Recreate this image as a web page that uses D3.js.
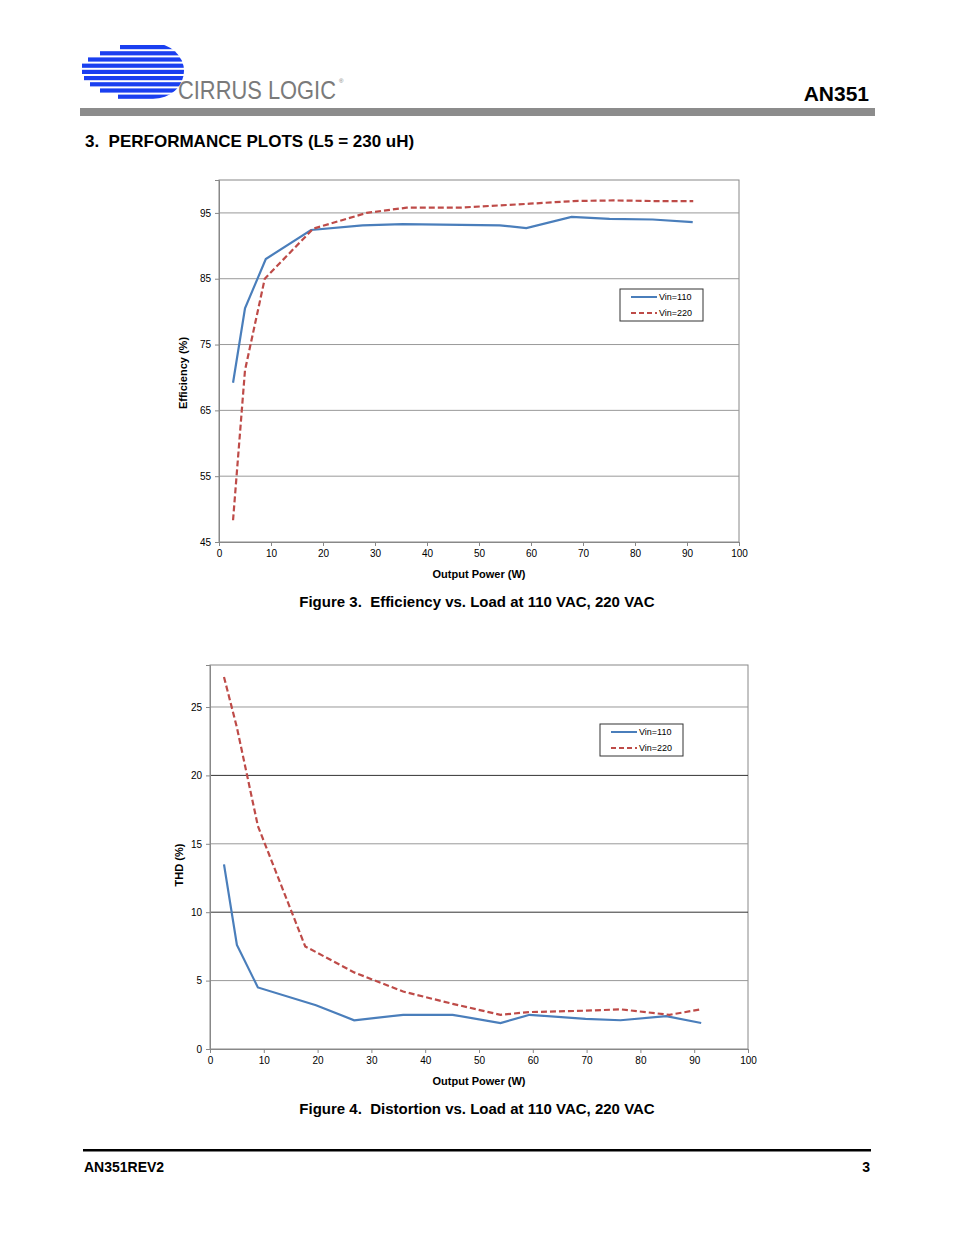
<!DOCTYPE html>
<html lang="en">
<head>
<meta charset="UTF-8">
<title>AN351 Performance Plots</title>
<script src="https://d3js.org/d3.v7.min.js"></script>
<style>
  body { margin: 0; background: #fff; }
  svg { font-family: "Liberation Sans", Arial, sans-serif; }
  text { white-space: pre; }
</style>
</head>
<body>
<div id="page"></div>
<script>
// Figure 3 data (efficiency)
const effX110 = [2.7, 5.0, 9.0, 17.7, 27.6, 35.3, 54.0, 59.1, 67.8, 75.1, 83.4, 91.1];
const effY110 = [69.2, 80.5, 88.0, 92.4, 93.1, 93.3, 93.1, 92.7, 94.4, 94.1, 94.0, 93.6];
const effX220 = [2.7, 5.0, 8.8, 18.1, 28.4, 36.1, 46.3, 59.8, 68.1, 75.8, 83.5, 91.2];
const effY220 = [48.3, 71.1, 85.0, 92.6, 95.0, 95.8, 95.8, 96.4, 96.8, 96.9, 96.8, 96.8];
// Figure 4 data (THD)
const thdX110 = [2.6, 5.0, 8.9, 19.7, 26.8, 35.9, 45.1, 54.0, 59.4, 69.8, 76.3, 84.8, 91.3];
const thdY110 = [13.5, 7.6, 4.5, 3.2, 2.1, 2.5, 2.5, 1.9, 2.5, 2.2, 2.1, 2.4, 1.9];
const thdX220 = [2.6, 5.0, 8.9, 17.7, 26.8, 35.9, 45.1, 54.0, 59.4, 69.8, 76.3, 85.4, 91.3];
const thdY220 = [27.2, 23.5, 16.3, 7.5, 5.6, 4.2, 3.3, 2.5, 2.7, 2.8, 2.9, 2.5, 2.9];
const xTicks = [0, 10, 20, 30, 40, 50, 60, 70, 80, 90, 100];
const effTicks = [45, 55, 65, 75, 85, 95];
const thdTicks = [0, 5, 10, 15, 20, 25];
const seriesNames = ["Vin=110", "Vin=220"];

const W = 954, H = 1235;
const svg = d3.select("#page").append("svg").attr("width", W).attr("height", H);

// ---- header ----
const logo = svg.append("g");
const clip = svg.append("defs").append("clipPath").attr("id", "logoClip");
clip.append("ellipse").attr("cx", 153).attr("cy", 71).attr("rx", 31).attr("ry", 28);
clip.append("rect").attr("x", 80).attr("y", 43).attr("width", 73).attr("height", 56);
const stripes = logo.append("g").attr("clip-path", "url(#logoClip)");
d3.range(9).forEach(i => {
  const y = 45 + i * 6.2;
  const start = [120, 100, 88, 82, 82, 84, 90, 100, 118][i];
  stripes.append("rect").attr("x", start).attr("y", y).attr("width", 120).attr("height", 4.2).attr("fill", "#1a3ff0");
});
logo.append("text").attr("x", 178).attr("y", 99).attr("font-size", 26).attr("fill", "#7a7a7a")
  .attr("textLength", 158).attr("lengthAdjust", "spacingAndGlyphs").text("CIRRUS LOGIC");
logo.append("text").attr("x", 339).attr("y", 83).attr("font-size", 6).attr("fill", "#7a7a7a").text("®");
svg.append("rect").attr("x", 80).attr("y", 108).attr("width", 795).attr("height", 8).attr("fill", "#8c8c8c");
svg.append("text").attr("x", 869).attr("y", 101).attr("text-anchor", "end").attr("font-size", 21)
  .attr("font-weight", "bold").text("AN351");
svg.append("text").attr("x", 85).attr("y", 147).attr("font-size", 17).attr("font-weight", "bold")
  .text("3.  PERFORMANCE PLOTS (L5 = 230 uH)");

// ---- chart builder ----
function chart(o) {
  const x = d3.scaleLinear().domain([0, 100]).range([o.x0, o.x1]);
  const y = d3.scaleLinear().domain(o.yDomain).range([o.y1, o.y0]);
  const g = svg.append("g");
  g.append("rect").attr("x", o.x0).attr("y", o.y0).attr("width", o.x1 - o.x0).attr("height", o.y1 - o.y0)
    .attr("fill", "none").attr("stroke", "#888").attr("stroke-width", 1);
  g.selectAll(".grid").data(o.yTicks.slice(1)).join("line")
    .attr("x1", o.x0).attr("x2", o.x1).attr("y1", d => y(d)).attr("y2", d => y(d))
    .attr("stroke", (d, i) => o.darkGrid && o.darkGrid.includes(d) ? "#333" : "#999").attr("stroke-width", 1);
  const xa = g.append("g").attr("transform", `translate(0,${o.y1})`)
    .call(d3.axisBottom(x).tickValues(xTicks).tickSize(4).tickPadding(4));
  const ya = g.append("g").attr("transform", `translate(${o.x0},0)`)
    .call(d3.axisLeft(y).tickValues(o.yTicks).tickSize(4).tickPadding(4));
  [xa, ya].forEach(a => {
    a.select(".domain").attr("stroke", "#888");
    a.selectAll(".tick line").attr("stroke", "#888");
    a.selectAll("text").attr("font-size", 10).attr("font-family", "Liberation Sans, Arial").attr("fill", "#000");
  });
  const line = d3.line().x(d => x(d[0])).y(d => y(d[1]));
  g.append("path").datum(d3.zip(o.x110, o.y110)).attr("d", line)
    .attr("fill", "none").attr("stroke", "#4a7ebb").attr("stroke-width", 2.2);
  g.append("path").datum(d3.zip(o.x220, o.y220)).attr("d", line)
    .attr("fill", "none").attr("stroke", "#be4b48").attr("stroke-width", 2.2).attr("stroke-dasharray", "6,3");
  g.append("text").attr("x", (o.x0 + o.x1) / 2).attr("y", o.y1 + 36).attr("text-anchor", "middle")
    .attr("font-size", 11).attr("font-weight", "bold").text("Output Power (W)");
  g.append("text").attr("transform", `translate(${o.yTitleX},${(o.y0 + o.y1) / 2 + o.yTitleDy}) rotate(-90)`)
    .attr("text-anchor", "middle").attr("font-size", 11).attr("font-weight", "bold").text(o.yTitle);
  // legend
  const L = g.append("g").attr("transform", `translate(${o.lx},${o.ly})`);
  L.append("rect").attr("width", 83).attr("height", 32).attr("fill", "#fff").attr("stroke", "#333");
  seriesNames.forEach((n, i) => {
    L.append("line").attr("x1", 11).attr("x2", 37).attr("y1", 8 + i * 16).attr("y2", 8 + i * 16)
      .attr("stroke", i ? "#be4b48" : "#4a7ebb").attr("stroke-width", 2)
      .attr("stroke-dasharray", i ? "5,3" : null);
    L.append("text").attr("x", 39).attr("y", 11 + i * 16).attr("font-size", 9).text(n);
  });
  svg.append("text").attr("x", 477).attr("y", o.captionY).attr("text-anchor", "middle")
    .attr("font-size", 15).attr("font-weight", "bold").text(o.caption);
}

chart({ x0: 219, x1: 739, y0: 180, y1: 542, yDomain: [45, 100], yTicks: effTicks,
  x110: effX110, y110: effY110, x220: effX220, y220: effY220,
  yTitle: "Efficiency (%)", yTitleX: 187, yTitleDy: 12, lx: 620, ly: 289,
  caption: "Figure 3.  Efficiency vs. Load at 110 VAC, 220 VAC", captionY: 607 });

chart({ x0: 210, x1: 748, y0: 665, y1: 1049, yDomain: [0, 28.07], yTicks: thdTicks, darkGrid: [10, 20],
  x110: thdX110, y110: thdY110, x220: thdX220, y220: thdY220,
  yTitle: "THD (%)", yTitleX: 183, yTitleDy: 8, lx: 600, ly: 724,
  caption: "Figure 4.  Distortion vs. Load at 110 VAC, 220 VAC", captionY: 1114 });

// ---- footer ----
svg.append("rect").attr("x", 83).attr("y", 1149).attr("width", 788).attr("height", 2.5).attr("fill", "#000");
svg.append("text").attr("x", 84).attr("y", 1172).attr("font-size", 14).attr("font-weight", "bold").text("AN351REV2");
svg.append("text").attr("x", 870).attr("y", 1172).attr("text-anchor", "end").attr("font-size", 14).attr("font-weight", "bold").text("3");
</script>
</body>
</html>
